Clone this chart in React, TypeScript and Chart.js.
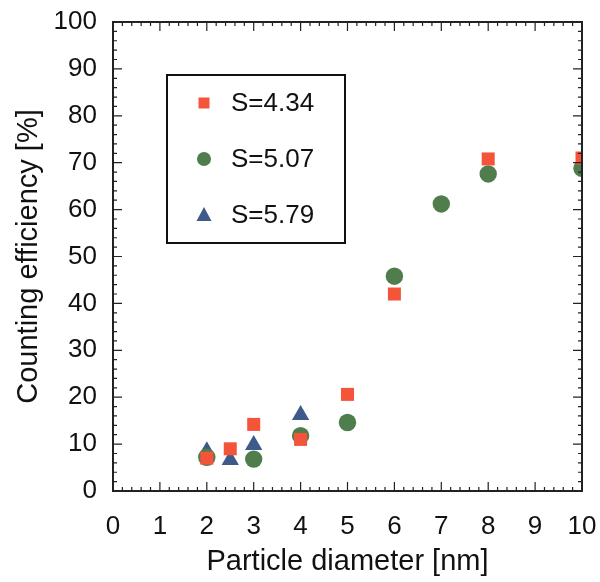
import React, { useEffect, useRef } from "react";
import { Chart, registerables } from "chart.js";

Chart.register(...registerables);

const xTicks = [0, 1, 2, 3, 4, 5, 6, 7, 8, 9, 10];
const yTicks = [0, 10, 20, 30, 40, 50, 60, 70, 80, 90, 100];

const s434X = [2, 2.5, 3, 4, 5, 6, 8, 10];
const s434Y = [7, 9, 14.2, 11, 20.6, 42, 70.8, 71];

const s507X = [2, 3, 4, 5, 6, 7, 8, 10];
const s507Y = [7.2, 6.8, 11.8, 14.6, 45.8, 61.2, 67.6, 68.8];

const s579X = [2, 2.5, 3, 4];
const s579Y = [8.5, 6.6, 9.8, 16.2];

const FONT = "Liberation Sans, Arial, sans-serif";

const framePlugin = {
  id: "frameTicks",
  afterDatasetsDraw(chart: any) {
    const { ctx, chartArea: a, scales } = chart;
    const xs = scales.x;
    const ys = scales.y;
    ctx.save();
    ctx.strokeStyle = "#222";
    ctx.lineWidth = 2;
    ctx.strokeRect(a.left, a.top, a.right - a.left, a.bottom - a.top);
    ctx.lineWidth = 1.2;
    ctx.beginPath();
    for (let v = 0; v <= 10.0001; v += 0.2) {
      const major = Math.abs(v - Math.round(v)) < 1e-6;
      const len = major ? 9 : 4;
      const px = xs.getPixelForValue(v);
      ctx.moveTo(px, a.bottom);
      ctx.lineTo(px, a.bottom - len);
      ctx.moveTo(px, a.top);
      ctx.lineTo(px, a.top + len);
    }
    for (let v = 0; v <= 100.0001; v += 2) {
      const major = Math.abs(v / 10 - Math.round(v / 10)) < 1e-6;
      const len = major ? 9 : 4;
      const py = ys.getPixelForValue(v);
      ctx.moveTo(a.left, py);
      ctx.lineTo(a.left + len, py);
      ctx.moveTo(a.right, py);
      ctx.lineTo(a.right - len, py);
    }
    ctx.stroke();
    ctx.restore();
  },
  afterDraw(chart: any) {
    const { ctx, chartArea: a } = chart;
    const left = a.left + 54;
    const top = a.top + 53;
    const w = 178;
    const h = 168;
    ctx.save();
    ctx.fillStyle = "#fff";
    ctx.fillRect(left, top, w, h);
    ctx.strokeStyle = "#111";
    ctx.lineWidth = 2;
    ctx.strokeRect(left, top, w, h);
    ctx.font = `26px ${FONT}`;
    ctx.textBaseline = "middle";
    chart.data.datasets.forEach((ds: any, i: number) => {
      const cy = top + 28 + i * 56;
      ctx.fillStyle = ds.backgroundColor;
      const cx = left + 37;
      ctx.beginPath();
      if (ds.pointStyle === "rect") {
        ctx.rect(cx - 5.5, cy - 5.5, 11, 11);
      } else if (ds.pointStyle === "circle") {
        ctx.arc(cx, cy, 7, 0, Math.PI * 2);
      } else {
        ctx.moveTo(cx, cy - 8);
        ctx.lineTo(cx + 7.5, cy + 6);
        ctx.lineTo(cx - 7.5, cy + 6);
        ctx.closePath();
      }
      ctx.fill();
      ctx.fillStyle = "#111";
      ctx.fillText(ds.label, left + 64, cy + 1);
    });
    ctx.restore();
  },
};

export default function App() {
  const ref = useRef<HTMLCanvasElement | null>(null);
  useEffect(() => {
    if (!ref.current) return;
    const mk = (xs: number[], ys: number[]) => xs.map((x, i) => ({ x, y: ys[i] }));
    const chart = new Chart(ref.current, {
      type: "scatter",
      data: {
        datasets: [
          {
            label: "S=4.34",
            data: mk(s434X, s434Y),
            pointStyle: "rect",
            pointRadius: 9.2,
            backgroundColor: "#f4553a",
            borderColor: "#f4553a",
            borderWidth: 0,
          },
          {
            label: "S=5.07",
            data: mk(s507X, s507Y),
            pointStyle: "circle",
            pointRadius: 8.7,
            backgroundColor: "#4f7e4c",
            borderColor: "#4f7e4c",
            borderWidth: 0,
          },
          {
            label: "S=5.79",
            data: mk(s579X, s579Y),
            pointStyle: "triangle",
            pointRadius: 10,
            backgroundColor: "#3e5a8a",
            borderColor: "#3e5a8a",
            borderWidth: 0,
          },
        ],
      },
      options: {
        animation: false,
        responsive: false,
        maintainAspectRatio: false,
        layout: { padding: { top: 22, right: 18, left: 0, bottom: 0 } },
        plugins: { legend: { display: false }, tooltip: { enabled: false } },
        scales: {
          x: {
            type: "linear",
            min: 0,
            max: 10,
            afterBuildTicks: (s: any) => {
              s.ticks = xTicks.map((v) => ({ value: v }));
            },
            afterFit: (s: any) => {
              s.height = 91;
              s.paddingLeft = 0;
              s.paddingRight = 0;
            },
            grid: { display: false, drawTicks: false },
            border: { display: false },
            ticks: {
              color: "#111",
              font: { family: FONT, size: 26 },
              padding: 20,
              maxRotation: 0,
              autoSkip: false,
            },
            title: {
              display: true,
              text: "Particle diameter [nm]",
              color: "#111",
              font: { family: FONT, size: 29 },
              padding: { top: 0, bottom: 3 },
            },
          },
          y: {
            type: "linear",
            min: 0,
            max: 100,
            afterBuildTicks: (s: any) => {
              s.ticks = yTicks.map((v) => ({ value: v }));
            },
            afterFit: (s: any) => {
              s.width = 113;
              s.paddingTop = 0;
              s.paddingBottom = 0;
            },
            grid: { display: false, drawTicks: false },
            border: { display: false },
            ticks: {
              color: "#111",
              font: { family: FONT, size: 26 },
              padding: 16,
              autoSkip: false,
            },
            title: {
              display: true,
              text: "Counting efficiency [%]",
              color: "#111",
              font: { family: FONT, size: 29 },
              padding: { top: 12, bottom: 0 },
            },
          },
        },
      },
      plugins: [framePlugin],
    } as any);
    return () => chart.destroy();
  }, []);
  return (
    <div style={{ position: "fixed", left: 0, top: 0, width: 600, height: 582, background: "#fff" }}>
      <canvas ref={ref} width={600} height={582} style={{ width: 600, height: 582, display: "block" }} />
    </div>
  );
}
